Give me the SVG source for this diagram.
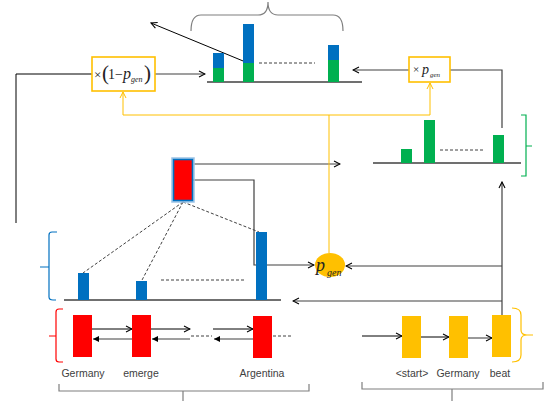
<svg xmlns="http://www.w3.org/2000/svg" width="552" height="401" viewBox="0 0 552 401">
<style>
.ln{fill:none;stroke:#404040;stroke-width:1.2}
.lk{fill:none;stroke:#000;stroke-width:1}
.lg{fill:none;stroke:#7f7f7f;stroke-width:1.6}
.dash{fill:none;stroke:#404040;stroke-width:1;stroke-dasharray:3,2}
.orl{fill:none;stroke:#FFC000;stroke-width:1}
.lbl{font-family:"Liberation Sans",Arial,sans-serif;font-size:10.5px;fill:#404040;text-anchor:middle}
.math{font-family:"Liberation Serif","Times New Roman",serif;fill:#222}
.it{font-style:italic}
.blue{fill:#0070C0}
.green{fill:#00B050}
.red{fill:#FF0000}
.yel{fill:#FFC000}
.base{fill:none;stroke:#404040;stroke-width:1.5}
</style>
<defs>
<marker id="arr" markerWidth="8" markerHeight="8" refX="7" refY="4" orient="auto" markerUnits="userSpaceOnUse">
<path d="M1,1 L7,4 L1,7" fill="none" stroke="#000" stroke-width="1.1"/>
</marker>
<marker id="arrO" markerWidth="8" markerHeight="8" refX="7" refY="4" orient="auto" markerUnits="userSpaceOnUse">
<path d="M1,1 L7,4 L1,7" fill="none" stroke="#FFC000" stroke-width="1"/>
</marker>
<marker id="arrF" markerWidth="7" markerHeight="7" refX="6" refY="3.5" orient="auto" markerUnits="userSpaceOnUse">
<path d="M0,0.5 L6,3.5 L0,6.5 Z" fill="#000"/>
</marker>
</defs>

<g id="connectors">
<path class="lk" d="M248,63 L151,23" marker-end="url(#arr)"/>
<path class="lk" d="M16,223 L16,74 L92,74"/>
<path class="ln" d="M155,74 L205,74" marker-end="url(#arr)"/>
<path class="ln" d="M409,70 L353,70" marker-end="url(#arr)"/>
<path class="ln" d="M450,70 L502,70 L502,128"/>
<path class="ln" d="M194,164 L340,164" marker-end="url(#arr)"/>
<path class="ln" d="M193,180 L254,180 L254,265 L314,265" marker-end="url(#arr)"/>
<path class="ln" d="M502,316 L502,182" marker-end="url(#arr)"/>
<path class="ln" d="M502,266 L346,266" marker-end="url(#arr)"/>
<path class="ln" d="M502,301 L293,301" marker-end="url(#arr)"/>
<path class="dash" d="M183,202 L83,273 M183,202 L141,282 M183,202 L259,232"/>
<path class="lk" d="M92,329 L132,329" marker-end="url(#arr)"/>
<path class="lk" d="M151,329 L190,329" marker-end="url(#arr)"/>
<path class="lk" d="M213,329 L253,329" marker-end="url(#arr)"/>
<path class="lg" d="M132,339 L93,339" marker-end="url(#arrF)"/>
<path class="lg" d="M190,339 L152,339" marker-end="url(#arrF)"/>
<path class="lg" d="M253,339 L214,339" marker-end="url(#arrF)"/>
<path class="dash" d="M191,336 L212,336 M273,336 L292,336"/>
<path class="lk" d="M362,336 L402,336" marker-end="url(#arr)"/>
<path class="lk" d="M421,337 L449,337" marker-end="url(#arr)"/>
<path class="lg" d="M468,338 L492,338" marker-end="url(#arr)"/>
<path class="orl" d="M329,115 L123,115 L123,92" marker-end="url(#arrO)"/>
<path class="orl" d="M329,115 L430,115 L430,83" marker-end="url(#arrO)"/>
<path class="orl" d="M329,115 L329,253"/>
</g>

<g id="top-brace">
<path d="M191,31 Q191,15 201,15 L258,15 Q268,15 268,2 Q268,15 278,15 L333,15 Q343,15 343,31" fill="none" stroke="#7f7f7f" stroke-width="1.2"/>
</g>

<g id="final-distribution">
<line class="base" x1="207" y1="82" x2="362" y2="82"/>
<rect class="blue" x="213" y="53" width="11" height="15"/>
<rect class="green" x="213" y="68" width="11" height="14"/>
<rect class="blue" x="243" y="24" width="11" height="39"/>
<rect class="green" x="243" y="63" width="11" height="19"/>
<rect class="blue" x="328" y="45" width="11" height="15"/>
<rect class="green" x="328" y="60" width="11" height="22"/>
<path class="dash" d="M259,63 L315,63"/>
</g>

<g id="mul-1-pgen">
<rect x="92" y="57" width="63" height="34" fill="#fff" stroke="#FFC000" stroke-width="1.6"/>
<text class="math" x="94" y="79" font-size="13">×</text>
<text class="math" x="102" y="80" font-size="21">(</text>
<text class="math" x="108" y="79" font-size="14">1−</text>
<text class="math it" x="123" y="79" font-size="16">p</text>
<text class="math it" x="131" y="82" font-size="8">gen</text>
<text class="math" x="144" y="80" font-size="21">)</text>
</g>

<g id="mul-pgen">
<rect x="409" y="57" width="41" height="25" fill="#fff" stroke="#FFC000" stroke-width="1.6"/>
<text class="math" x="413" y="73" font-size="11">×</text>
<text class="math it" x="422" y="74" font-size="14">p</text>
<text class="math it" x="430" y="77" font-size="7">gen</text>
</g>

<g id="vocab-distribution">
<line class="base" x1="373" y1="163" x2="521" y2="163"/>
<rect class="green" x="401" y="149" width="11" height="14"/>
<rect class="green" x="424" y="120" width="11" height="43"/>
<rect class="green" x="493" y="135" width="11" height="28"/>
<path class="dash" d="M440,150 L483,150"/>
<path d="M521,115 L526,115 L526,176 L521,176 M526,146 L532,146" fill="none" stroke="#00B050" stroke-width="1.2"/>
</g>

<g id="context-vector">
<rect x="172" y="158" width="22" height="44" fill="none" stroke="#9DC3E6" stroke-width="1.5"/>
<rect x="173.5" y="159.5" width="19" height="41" fill="#FF0000" stroke="#0070C0" stroke-width="1.6"/>
</g>

<g id="pgen">
<ellipse cx="330" cy="265" rx="15" ry="12" fill="#FFC000"/>
<text class="math it" x="316" y="271" font-size="18" fill="#000">p</text>
<text class="math it" x="327" y="276" font-size="10" fill="#000">gen</text>
</g>

<g id="attention-distribution">
<line class="base" x1="64" y1="300" x2="281" y2="300"/>
<rect class="blue" x="78" y="273" width="11" height="27"/>
<rect class="blue" x="136" y="281" width="11" height="19"/>
<rect class="blue" x="256" y="232" width="11" height="68"/>
<path class="dash" d="M161,280 L244,280"/>
<path d="M57,232 L52,232 Q49,232 49,235 L49,297 Q49,300 53,300 L56,300 M49,267 L40,267" fill="none" stroke="#0070C0" stroke-width="1.2"/>
</g>

<g id="encoder">
<rect class="red" x="73" y="315" width="19" height="42"/>
<rect class="red" x="132" y="315" width="19" height="42"/>
<rect class="red" x="253" y="316" width="19" height="42"/>
<path d="M63,309 L59,309 Q56,309 56,312 L56,359 Q56,362 59,362 L63,362 M56,336 L49,336" fill="none" stroke="#FF0000" stroke-width="1.2"/>
<text class="lbl" x="83" y="377">Germany</text>
<text class="lbl" x="141" y="377">emerge</text>
<text class="lbl" x="262" y="377">Argentina</text>
<path d="M59,384 L59,391 L309,391 L309,384 M183,391 L183,401" fill="none" stroke="#7f7f7f" stroke-width="1.2"/>
</g>

<g id="decoder">
<rect class="yel" x="402" y="316" width="19" height="42"/>
<rect class="yel" x="449" y="316" width="19" height="42"/>
<rect class="yel" x="492" y="315" width="19" height="42"/>
<path d="M512,308 Q521,308 521,315 L521,330 Q521,335 527,335 L533,335 M527,335 Q521,335 521,340 L521,355 Q521,362 512,362" fill="none" stroke="#FFC000" stroke-width="1.2"/>
<text class="lbl" x="412" y="377">&lt;start&gt;</text>
<text class="lbl" x="458" y="377">Germany</text>
<text class="lbl" x="500" y="377">beat</text>
<path d="M362,382 L362,389 L543,389 L543,382 M452,389 L452,401" fill="none" stroke="#7f7f7f" stroke-width="1.2"/>
</g>
</svg>
